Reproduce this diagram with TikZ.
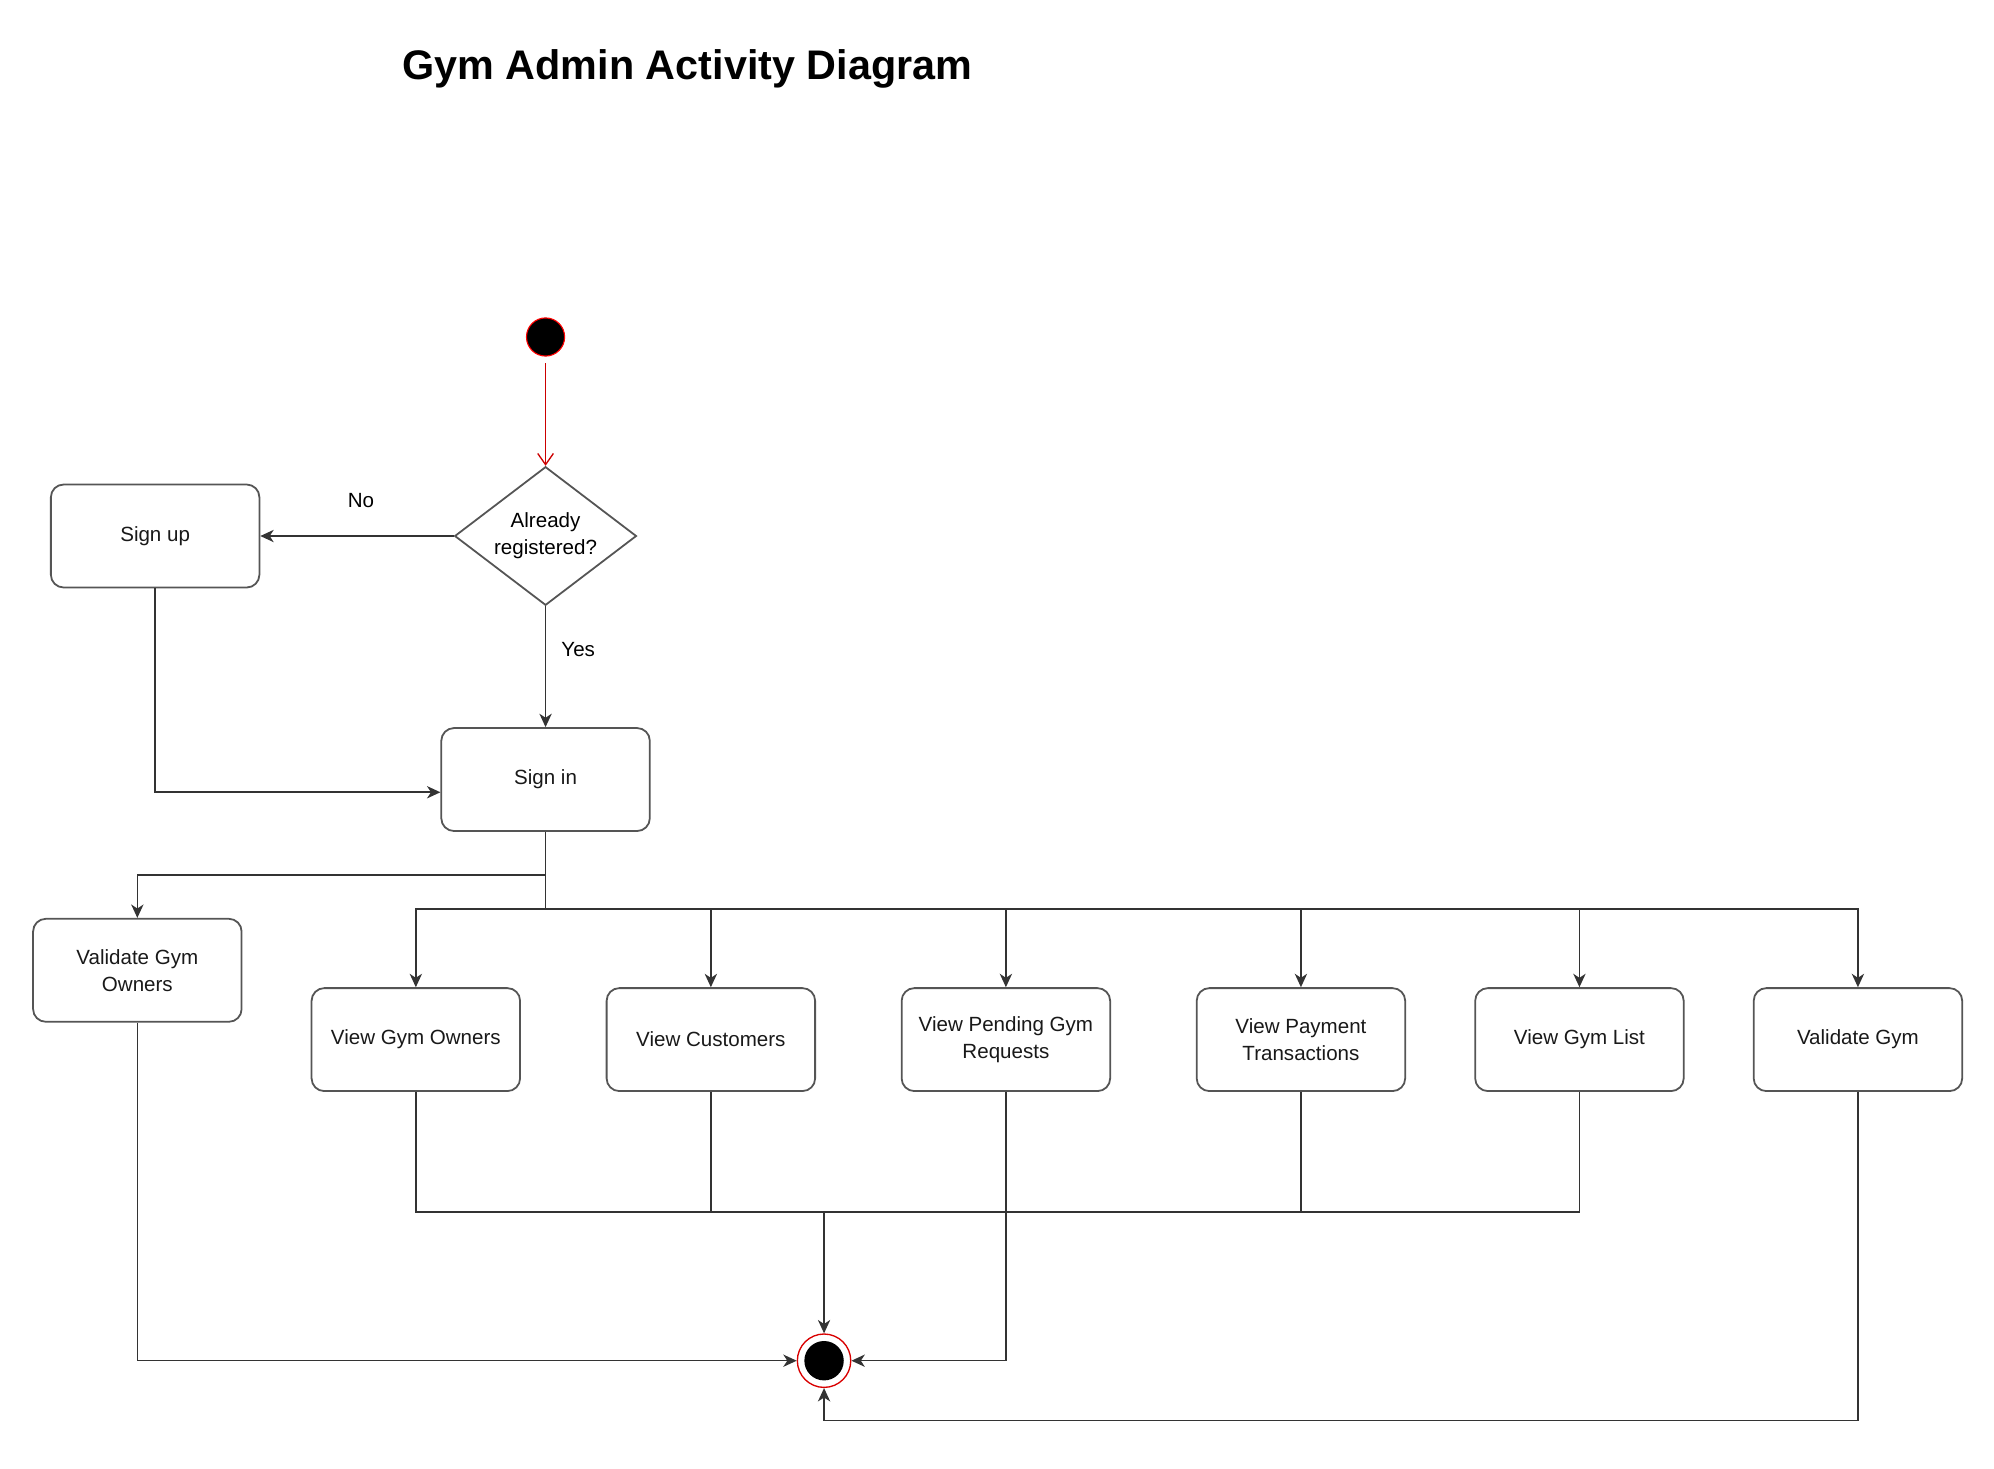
\documentclass[tikz,border=0pt]{standalone}
\usepackage{fontspec}
\setmainfont{Liberation Sans}
\usetikzlibrary{shapes.geometric,arrows.meta}
\definecolor{lncol}{HTML}{333333}
\definecolor{bxcol}{HTML}{555555}
\tikzset{
  box/.style={draw=bxcol, line width=0.8pt, rounded corners=0.2cm, fill=white,
    minimum width=3.28cm, minimum height=1.62cm, align=center, inner sep=2pt,
    font=\fontsize{9.2}{12}\selectfont, text=black!90},
  decision/.style={draw=bxcol, line width=0.8pt, diamond, aspect=1.31, inner sep=0pt,
    minimum width=2.86cm, minimum height=2.18cm, align=center,
    font=\fontsize{9.2}{12}\selectfont},
  conn/.style={draw=lncol, line width=0.7pt},
  arr/.style={conn, -{Stealth[length=6pt,width=5.5pt,inset=1.8pt]}},
  redarr/.style={draw=red!80!black, line width=0.6pt, -{Straight Barb[length=5pt,width=7pt]}},
  lbl/.style={font=\fontsize{9.2}{12}\selectfont}
}
\begin{document}
\begin{tikzpicture}[x=0.02cm,y=-0.02cm]
\useasboundingbox (0,0) rectangle (1568,1154.4);
% title
\node[font=\fontsize{18.5}{22}\selectfont\bfseries] (title) at (540.5,54) {Gym Admin Activity Diagram};
% start
\node[circle, fill=black, draw=red, line width=0.5pt, minimum size=0.6cm, inner sep=0pt] (start) at (429,265) {};
% decision
\node[decision] (dec) at (429,421.5) {Already\\registered?};
% boxes
\node[box] (signup) at (122,421.5) {Sign up};
\node[box] (signin) at (429,613) {Sign in};
\node[box] (vgo) at (108,763) {Validate Gym\\Owners};
\node[box] (vgown) at (327,817.5) {View Gym Owners};
\node[box] (vcust) at (559,817.5) {View Customers};
\node[box] (vpend) at (791,817.5) {View Pending Gym\\Requests};
\node[box] (vpay) at (1023,817.5) {View Payment\\Transactions};
\node[box] (vlist) at (1242,817.5) {View Gym List};
\node[box] (vgym) at (1461,817.5) {Validate Gym};
% end
\node[circle, draw=red!85!black, fill=white, line width=0.6pt, minimum size=0.84cm, inner sep=0pt] (end) at (648,1070) {};
\node[circle, fill=black, minimum size=0.62cm, inner sep=0pt] (endin) at (648,1070) {};
% junction coordinates
\coordinate (br) at (429,688);
\coordinate (bus) at (429,715);
\coordinate (mrg) at (648,953);
\coordinate (low) at (648,1117);
% connectors
\draw[redarr, shorten <=3pt] (start) -- (dec.north);
\draw[arr] (dec.west) -- node[lbl, pos=0.48, above=0.32cm] (nolbl) {No} (signup.east);
\draw[arr] (dec.south) -- node[lbl, pos=0.36, right=0.12cm] (yeslbl) {Yes} (signin.north);
\draw[arr] (signup.south) |- ([yshift=-0.2cm]signin.west);
\draw[arr] (signin.south) -- (br) -| (vgo.north);
\draw[conn] (br) -- (bus);
\draw[arr] (bus) -| (vgown.north);
\draw[arr] (bus) -| (vcust.north);
\draw[arr] (bus) -| (vpend.north);
\draw[arr] (bus) -| (vpay.north);
\draw[arr] (bus) -| (vlist.north);
\draw[arr] (bus) -| (vgym.north);
\draw[conn] (vgown.south) |- (mrg);
\draw[conn] (vcust.south) |- (mrg);
\draw[conn] (vpay.south) |- (mrg);
\draw[conn] (vlist.south) |- (mrg);
\draw[arr] (mrg) -- (end.north);
\draw[arr] (vpend.south) |- (end.east);
\draw[arr] (vgo.south) |- (end.west);
\draw[arr] (vgym.south) |- (low) -- (end.south);
\end{tikzpicture}
\end{document}
